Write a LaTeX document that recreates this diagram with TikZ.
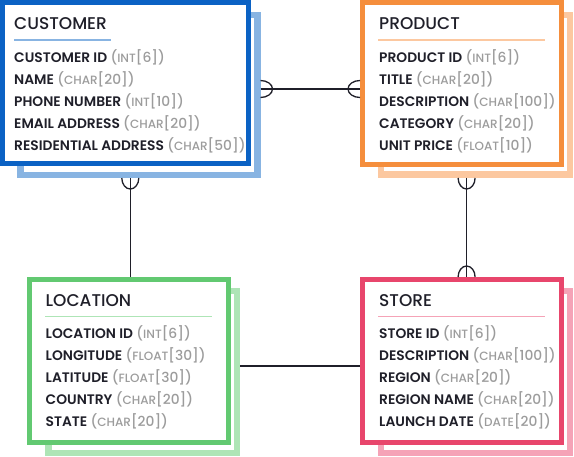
\documentclass[tikz,border=0pt]{standalone}
\usepackage{fontspec}
\setmainfont{Poppins}[UprightFont={* Medium}, BoldFont={* SemiBold}]
\usetikzlibrary{positioning}

\definecolor{cusdark}{HTML}{0B62C4}
\definecolor{cuslight}{HTML}{88B4E2}
\definecolor{proddark}{HTML}{F58E3C}
\definecolor{prodlight}{HTML}{FCC8A0}
\definecolor{locdark}{HTML}{62C971}
\definecolor{loclight}{HTML}{AEE5B6}
\definecolor{storedark}{HTML}{E8466C}
\definecolor{storelight}{HTML}{F5A3B7}
\definecolor{ink}{HTML}{1F1F29}
\definecolor{typegray}{HTML}{9C9C9C}

\newcommand{\dtype}[2]{{\mdseries\color{typegray}(\fontsize{12}{13}\selectfont #1\fontsize{13.8}{15}\selectfont[#2])}}

\tikzset{
  entity/.style={draw, line width=5pt, fill=white, inner sep=0pt},
  backdrop/.style={draw, line width=6.5pt, inner sep=0pt},
  heading/.style={anchor=base west, inner sep=0pt, text=ink, font=\fontsize{17}{19}\selectfont},
  field/.style={anchor=base west, inner sep=0pt, text=ink, font=\fontsize{13.8}{15}\selectfont\bfseries},
  rule/.style={line width=1.5pt},
  link/.style={draw=ink, line width=1.3pt},
}

\begin{document}
\begin{tikzpicture}[x=1pt, y=1pt]
  \useasboundingbox (0,0) rectangle (574,456);
  % backdrops
  \node[backdrop, draw=cuslight, minimum width=237pt, minimum height=159.75pt] (cusS) at (138.75, 361.1) {};
  \node[backdrop, draw=prodlight, minimum width=188.75pt, minimum height=159.5pt] (prodS) at (475.6, 361) {};
  \node[backdrop, draw=loclight, minimum width=188.5pt, minimum height=161.5pt] (locS) at (142.5, 84) {};
  \node[backdrop, draw=storelight, minimum width=188.75pt, minimum height=161.5pt] (storeS) at (475.6, 84) {};
  % entity boxes
  \node[entity, draw=cusdark, minimum width=245.5pt, minimum height=160.7pt] (cus) at (125.25, 373.1) {};
  \node[entity, draw=proddark, minimum width=198.5pt, minimum height=162pt] (prod) at (461.75, 372.5) {};
  \node[entity, draw=locdark, minimum width=199pt, minimum height=163pt] (loc) at (129, 95) {};
  \node[entity, draw=storedark, minimum width=198.5pt, minimum height=163pt] (store) at (461.75, 95) {};

  % customer
  \node[heading] (cusT) at (14, 426) {CUSTOMER};
  \draw[rule, cuslight] (14, 416) -- (111, 416);
  \node[field] (cus1) at (14, 393.3) {CUSTOMER ID \dtype{INT}{6}};
  \node[field] (cus2) at (14, 371.3) {NAME \dtype{CHAR}{20}};
  \node[field] (cus3) at (14, 349.3) {PHONE NUMBER \dtype{INT}{10}};
  \node[field] (cus4) at (14, 327.3) {EMAIL ADDRESS \dtype{CHAR}{20}};
  \node[field] (cus5) at (14, 305.3) {RESIDENTIAL ADDRESS \dtype{CHAR}{50}};

  % product
  \node[heading] (prodT) at (379, 426) {PRODUCT};
  \draw[rule, prodlight] (378, 416) -- (545, 416);
  \node[field] (prod1) at (379, 393.3) {PRODUCT ID \dtype{INT}{6}};
  \node[field] (prod2) at (379, 371.3) {TITLE \dtype{CHAR}{20}};
  \node[field] (prod3) at (379, 349.3) {DESCRIPTION \dtype{CHAR}{100}};
  \node[field] (prod4) at (379, 327.3) {CATEGORY \dtype{CHAR}{20}};
  \node[field] (prod5) at (379, 305.3) {UNIT PRICE \dtype{FLOAT}{10}};

  % location
  \node[heading] (locT) at (45.5, 149.3) {LOCATION};
  \draw[rule, loclight] (45, 139.3) -- (212, 139.3);
  \node[field] (loc1) at (45.5, 117) {LOCATION ID \dtype{INT}{6}};
  \node[field] (loc2) at (45.5, 95) {LONGITUDE \dtype{FLOAT}{30}};
  \node[field] (loc3) at (45.5, 73) {LATITUDE \dtype{FLOAT}{30}};
  \node[field] (loc4) at (45.5, 51) {COUNTRY \dtype{CHAR}{20}};
  \node[field] (loc5) at (45.5, 29) {STATE \dtype{CHAR}{20}};

  % store
  \node[heading] (storeT) at (379, 149.3) {STORE};
  \draw[rule, storelight] (378, 139.3) -- (545, 139.3);
  \node[field] (store1) at (379, 117) {STORE ID \dtype{INT}{6}};
  \node[field] (store2) at (379, 95) {DESCRIPTION \dtype{CHAR}{100}};
  \node[field] (store3) at (379, 73) {REGION \dtype{CHAR}{20}};
  \node[field] (store4) at (379, 51) {REGION NAME \dtype{CHAR}{20}};
  \node[field] (store5) at (379, 29) {LAUNCH DATE \dtype{DATE}{20}};

  % relations
  \coordinate (cp) at (0, 367);
  \coordinate (cl) at (130.3, 0);
  \coordinate (ps) at (466.6, 0);
  \coordinate (ls) at (0, 90);
  \draw[link] (cusS.east |- cp) -- (prod.west |- cp);
  \draw[link] (cusS.south -| cl) -- (loc.north -| cl);
  \draw[link] (prodS.south -| ps) -- (store.north -| ps);
  \draw[link] (locS.east |- ls) -- (store.west |- ls);
  % crow's feet
  \draw[link] ([yshift=8.5pt]cusS.east |- cp) arc[start angle=90, end angle=-90, x radius=12pt, y radius=8.5pt];
  \draw[link] ([yshift=8.5pt]prod.west |- cp) arc[start angle=90, end angle=270, x radius=12pt, y radius=8.5pt];
  \draw[link] ([xshift=-8.5pt]cusS.south -| cl) arc[start angle=180, end angle=360, x radius=8.5pt, y radius=11pt];
  \draw[link] ([xshift=-8.5pt]prodS.south -| ps) arc[start angle=180, end angle=360, x radius=8.5pt, y radius=11pt];
  \draw[link] ([xshift=-8.5pt]store.north -| ps) arc[start angle=180, end angle=0, x radius=8.5pt, y radius=11pt];
\end{tikzpicture}
\end{document}
